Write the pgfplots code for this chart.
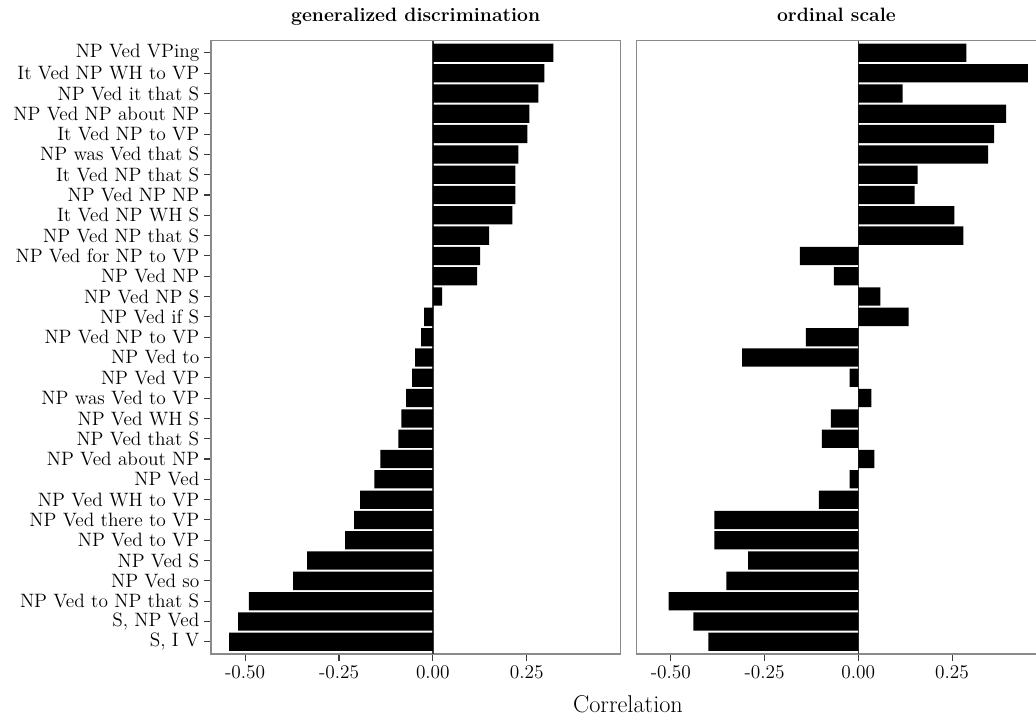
\documentclass[border=0pt]{standalone}
\usepackage{fontspec}
\usepackage{pgfplots}
\pgfplotsset{compat=1.18}

\definecolor{framegray}{HTML}{8A8A8A}
\definecolor{zerogray}{HTML}{3A3A3A}

% y = row (0 = bottom, 29 = top), val = correlation
\pgfplotstableread{
y val
29  0.321
28  0.297
27  0.281
26  0.257
25  0.252
24  0.228
23  0.220
22  0.220
21  0.212
20  0.150
19  0.126
18  0.118
17  0.025
16 -0.023
15 -0.031
14 -0.047
13 -0.055
12 -0.071
11 -0.084
10 -0.092
9  -0.140
8  -0.156
7  -0.194
6  -0.210
5  -0.234
4  -0.335
3  -0.372
2  -0.490
1  -0.519
0  -0.543
}\gendisc

\pgfplotstableread{
y val
29  0.288
28  0.452
27  0.118
26  0.394
25  0.362
24  0.346
23  0.158
22  0.150
21  0.256
20  0.280
19 -0.156
18 -0.065
17  0.059
16  0.134
15 -0.140
14 -0.310
13 -0.023
12  0.035
11 -0.073
10 -0.097
9   0.043
8  -0.023
7  -0.105
6  -0.384
5  -0.384
4  -0.294
3  -0.352
2  -0.506
1  -0.440
0  -0.400
}\ordinal

\newcommand{\lblfont}{\fontsize{14.5}{17}\selectfont}

\begin{document}
\begin{tikzpicture}
\pgfplotsset{
  panel/.style={
    scale only axis, height=460pt,
    xmin=-0.591, ymin=-0.6, ymax=29.6,
    xbar, bar width=0.9,
    clip=false,
    xtick={-0.5,-0.25,0,0.25},
    xticklabels={-0.50,-0.25,0.00,0.25},
    tick pos=left, tick align=outside,
    major tick length=5.25pt,
    tick style={zerogray, line width=0.8pt},
    ticklabel style={font=\lblfont},
    title style={font=\bfseries\lblfont, at={(0.5,1)}, anchor=base, yshift=8pt},
  },
}

\begin{axis}[panel,
  at={(0pt,0pt)}, anchor=south west,
  width=307pt, xmax=0.4995,
  axis line style={framegray, line width=0.8pt},
  ytick={0,...,29},
  yticklabels={
    {S, I V}, {S, NP Ved}, NP Ved to NP that S, NP Ved so, NP Ved S,
    NP Ved to VP, NP Ved there to VP, NP Ved WH to VP, NP Ved, NP Ved about NP,
    NP Ved that S, NP Ved WH S, NP was Ved to VP, NP Ved VP, NP Ved to,
    NP Ved NP to VP, NP Ved if S, NP Ved NP S, NP Ved NP, NP Ved for NP to VP,
    NP Ved NP that S, It Ved NP WH S, NP Ved NP NP, It Ved NP that S, NP was Ved that S,
    It Ved NP to VP, NP Ved NP about NP, NP Ved it that S, It Ved NP WH to VP, NP Ved VPing},
  title={generalized discrimination},
]
\draw[zerogray, line width=1pt] (0,-0.6) -- (0,29.6);
\addplot[fill=black, draw=none] table[x=val, y=y] {\gendisc};
\end{axis}

\begin{axis}[panel,
  at={(319.3pt,0pt)}, anchor=south west,
  width=299.5pt, xmax=0.474,
  axis line style={draw=none},
  ytick=\empty,
  title={ordinal scale},
]
\draw[framegray, line width=0.8pt]
  (rel axis cs:1,1) -- (rel axis cs:0,1) -- (rel axis cs:0,0) -- (rel axis cs:1,0);
\draw[zerogray, line width=1pt] (0,-0.6) -- (0,29.6);
\addplot[fill=black, draw=none] table[x=val, y=y] {\ordinal};
\end{axis}

\node[font=\fontsize{18.2}{21}\selectfont, anchor=base] at (312.75pt,-44pt) {Correlation};

\pgfresetboundingbox
\useasboundingbox (-158.25pt,-53.25pt) rectangle (618.75pt,490.5pt);
\end{tikzpicture}
\end{document}
